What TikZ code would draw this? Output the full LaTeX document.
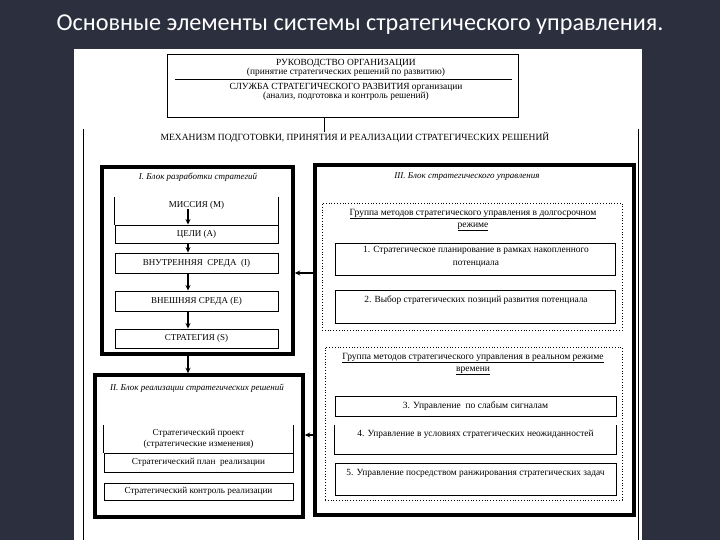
\documentclass[tikz,border=0pt]{standalone}
\usepackage{fontspec}
\setmainfont{Liberation Serif}
\newfontfamily\titlefont{Carlito}
\usetikzlibrary{arrows.meta}
\definecolor{bgdark}{HTML}{2B2F3E}
\begin{document}
\begin{tikzpicture}[x=1pt,y=-1pt,
  txt/.style={font=\fontsize{9}{10}\selectfont, inner sep=0pt, align=center},
  txtl/.style={font=\fontsize{9.4}{10}\selectfont, inner sep=0pt, align=center},
  cell/.style={draw, line width=0.9pt, inner sep=0pt, font=\fontsize{9}{10}\selectfont, align=center},
  opencell/.style={inner sep=0pt},
  block/.style={draw, line width=3.5pt, inner sep=0pt},
  grp/.style={draw, dotted, line width=0.8pt, inner sep=0pt},
  thin/.style={line width=0.9pt},
  arr/.style={line width=1.1pt, -{Stealth[length=5.5pt,width=5pt]}},
  btitle/.style={font=\fontsize{9}{10}\selectfont\itshape, inner sep=0pt}]
\useasboundingbox (0,0) rectangle (720,540);
\fill[bgdark] (0,0) rectangle (720,540);
\node[font=\titlefont\fontsize{24.2}{28}\selectfont, text=white, anchor=base, inner sep=0pt] (title) at (360,31) {Основные элементы системы стратегического управления.};
\fill[white] (74,49) rectangle (642,540);

% top box
\node[cell, minimum width=351pt, minimum height=63pt] (top) at (342.5,85.5) {};
\node[txtl] (ruk) at (346,63) {РУКОВОДСТВО ОРГАНИЗАЦИИ};
\node[txtl] (ruk2) at (346,72) {(принятие стратегических решений по развитию)};
\draw[thin] (175,79) -- (512,79);
\node[txtl] (sl) at (346,87) {СЛУЖБА СТРАТЕГИЧЕСКОГО РАЗВИТИЯ организации};
\node[txtl] (sl2) at (346,96) {(анализ, подготовка и контроль решений)};
\node[txt, font=\fontsize{9.5}{10}\selectfont] (mech) at (355,137) {МЕХАНИЗМ ПОДГОТОВКИ, ПРИНЯТИЯ И РЕАЛИЗАЦИИ СТРАТЕГИЧЕСКИХ РЕШЕНИЙ};
\coordinate (cx) at (324,0);
\draw[thin] (top.south -| cx) -- (mech.north -| cx);

% frame lines
\draw[thin] (83,129) -- (83,540);
\draw[thin] (638,129) -- (638,540);

% Block I
\node[block, minimum width=191pt, minimum height=187pt] (b1) at (197.5,260.5) {};
\node[btitle] (t1) at (198,177) {I. Блок разработки стратегий};
\node[opencell, minimum width=163pt, minimum height=28pt] (mis) at (196.5,211) {};
\draw[thin] (mis.north west) -- (mis.south west) (mis.north east) -- (mis.south east);
\node[txt] (mist) at (196.5,205) {МИССИЯ (М)};
\node[cell, minimum width=163pt, minimum height=18pt] (celi) at (196.5,234) {ЦЕЛИ (А)};
\node[cell, minimum width=163pt, minimum height=20pt] (vnut) at (196.5,263) {ВНУТРЕННЯЯ \ СРЕДА \ (I)};
\node[cell, minimum width=163pt, minimum height=20pt] (vnesh) at (196.5,301) {ВНЕШНЯЯ СРЕДА (Е)};
\node[cell, minimum width=163pt, minimum height=19pt] (strat) at (196.5,338.5) {СТРАТЕГИЯ (S)};
\coordinate (ax) at (188,0);
\draw[arr] (mist.south -| ax) -- (celi.north -| ax);
\draw[arr] (celi.south -| ax) -- (vnut.north -| ax);
\draw[arr] (vnut.south -| ax) -- (vnesh.north -| ax);
\draw[arr] (vnesh.south -| ax) -- (strat.north -| ax);

% Block II
\node[block, minimum width=208pt, minimum height=142pt] (b2) at (199,446) {};
\node[btitle] (t2) at (197,388) {II. Блок реализации стратегических решений};
\node[opencell, minimum width=189pt, minimum height=28pt] (proj) at (198.5,439) {};
\draw[thin] (proj.north west) -- (proj.south west) (proj.north east) -- (proj.south east);
\node[txt, font=\fontsize{9.2}{11}\selectfont] (projt) at (198.5,438.5) {Стратегический проект\\(стратегические изменения)};
\node[cell, minimum width=189pt, minimum height=19pt, font=\fontsize{9.2}{10}\selectfont] (plan) at (198.5,462.5) {Стратегический план \ реализации};
\node[cell, minimum width=189pt, minimum height=17pt, font=\fontsize{9.2}{10}\selectfont] (ctrl) at (198.5,491.5) {Стратегический контроль реализации};
\draw[arr] (b1.south -| ax) -- (b2.north -| ax);

% Block III
\node[block, minimum width=319pt, minimum height=350pt] (b3) at (474.5,340) {};
\node[btitle] (t3) at (467,177) {III. Блок стратегического управления};
\node[grp, minimum width=300pt, minimum height=127pt] (g1) at (472,266.5) {};
\node[txt, font=\fontsize{9.5}{12}\selectfont] (g1t) at (473,220) {\underline{Группа методов стратегического управления в долгосрочном}\\\underline{режиме}};
\node[cell, minimum width=280pt, minimum height=32pt] (m1) at (475,259) {};
\node[txt, font=\fontsize{9.4}{13}\selectfont] (m1t) at (476,256.5) {1. Стратегическое планирование в рамках накопленного\\потенциала};
\node[cell, minimum width=280pt, minimum height=33pt] (m2) at (475,306.5) {};
\node[txtl] (m2t) at (476,300) {2. Выбор стратегических позиций развития потенциала};

\node[grp, minimum width=297pt, minimum height=153pt] (g2) at (473.5,423.5) {};
\node[txt, font=\fontsize{9.5}{12}\selectfont] (g2t) at (473,364) {\underline{Группа методов стратегического управления в реальном режиме}\\\underline{времени}};
\node[cell, minimum width=281pt, minimum height=20pt, font=\fontsize{9.5}{10}\selectfont] (m3) at (475.5,406) {3. Управление \ по слабым сигналам};
\node[opencell, minimum width=281pt, minimum height=29pt] (m4) at (475.5,439.5) {};
\draw[thin] (m4.north west) -- (m4.south west) -- (m4.south east) -- (m4.north east);
\node[txtl] (m4t) at (475.5,434) {4. Управление в условиях стратегических неожиданностей};
\node[cell, minimum width=281pt, minimum height=32pt] (m5) at (475.5,479) {};
\node[txtl] (m5t) at (475.5,473) {5. Управление посредством ранжирования стратегических задач};

% arrows from block III
\coordinate (ay1) at (0,273);
\coordinate (ay2) at (0,435);
\draw[arr] (b3.west |- ay1) -- (b1.east |- ay1);
\draw[arr] (b3.west |- ay2) -- (b2.east |- ay2);
\end{tikzpicture}
\end{document}
